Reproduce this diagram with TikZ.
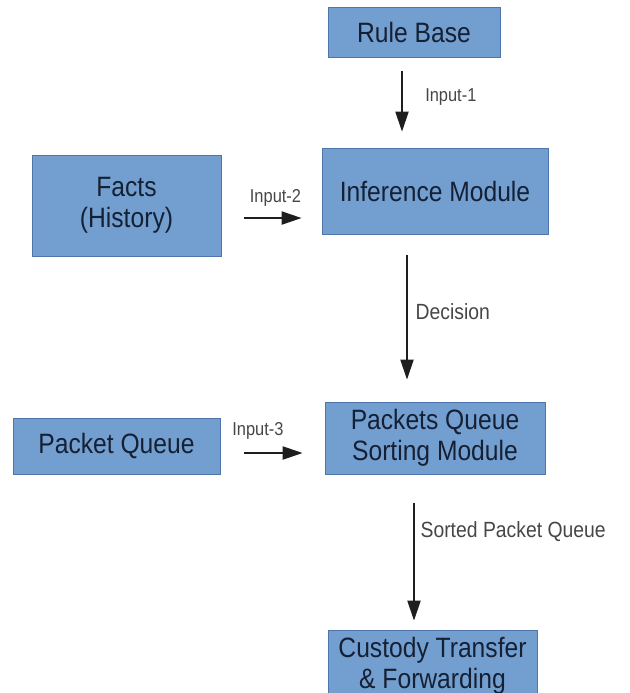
\documentclass[tikz,border=0pt]{standalone}
\usepackage{fontspec}
\setmainfont{Liberation Sans}[FakeStretch=0.88]
\usepackage{tikz}
\usetikzlibrary{arrows.meta}

\tikzset{
	blockbox/.style={draw={rgb,255:red,78;green,118;blue,172}, line width=0.75pt, fill={rgb,255:red,114;green,159;blue,207}, text={rgb,255:red,22;green,32;blue,52}, inner sep=0pt, align=center, font=\fontsize{21}{23}\selectfont},
	flow/.style={draw={rgb,255:red,30;green,30;blue,30}, line width=0.9pt, -{Triangle[length=15pt,width=10pt]}},
	lbl/.style={text={rgb,255:red,70;green,70;blue,70}, inner sep=0pt, font=\fontsize{16.5}{18}\selectfont},
	smalllbl/.style={text={rgb,255:red,70;green,70;blue,70}, inner sep=0pt, font=\fontsize{14}{16}\selectfont}
}

\begin{document}
\begin{tikzpicture}[x=0.75pt,y=0.75pt,yscale=-1,xscale=1]
	\useasboundingbox (0,0) rectangle (630,693);
	\clip (0,0) rectangle (630,693);

	% Shape: Rectangle
	\node [blockbox, minimum width=129pt, minimum height=37.5pt] (rule) at (414,32) {Rule Base};
	% Shape: Rectangle
	\node [blockbox, minimum width=141.75pt, minimum height=75.75pt] (facts) at (126.5,205.5) {Facts\\(History)};
	% Shape: Rectangle
	\node [blockbox, minimum width=169.5pt, minimum height=64.5pt] (infer) at (435,191) {Inference Module};
	% Shape: Rectangle
	\node [blockbox, minimum width=155.25pt, minimum height=42pt] (pq) at (116.5,446) {Packet Queue};
	% Shape: Rectangle
	\node [blockbox, minimum width=165pt, minimum height=54pt] (sort) at (435,438) {Packets Queue\\Sorting Module};
	% Shape: Rectangle
	\node [blockbox, minimum width=156.75pt, minimum height=54pt] (cust) at (432.5,666) {Custody Transfer\\\& Forwarding};

	%Straight Lines
	\draw [flow, shorten <=9.75pt, shorten >=12pt] ([xshift=-9pt]rule.south) -- ([xshift=-9pt]rule.south |- infer.north)
		node [smalllbl, pos=0.44, anchor=west, xshift=17pt] {Input-1};
	%Straight Lines
	\draw [flow, shorten <=16.5pt, shorten >=15pt] ([yshift=9.4pt]facts.east) -- ([yshift=9.4pt]facts.east -| infer.west)
		node [smalllbl, pos=0.54, above=8pt] {Input-2};
	%Straight Lines
	\draw [flow, shorten <=15pt, shorten >=16.5pt] ([xshift=-21pt]infer.south) -- ([xshift=-21pt]infer.south |- sort.north)
		node [lbl, pos=0.46, anchor=west, xshift=6pt] {Decision};
	%Straight Lines
	\draw [flow, shorten <=17.25pt, shorten >=16.5pt] ([yshift=5.25pt]pq.east) -- ([yshift=5.25pt]pq.east -| sort.west)
		node [smalllbl, pos=0.36, above=10pt] {Input-3};
	%Straight Lines
	\draw [flow, shorten <=21pt, shorten >=6.75pt] ([xshift=-15.75pt]sort.south) -- ([xshift=-15.75pt]sort.south |- cust.north)
		node [lbl, pos=0.37, anchor=west, xshift=4.5pt] {Sorted Packet Queue};
\end{tikzpicture}
\end{document}
